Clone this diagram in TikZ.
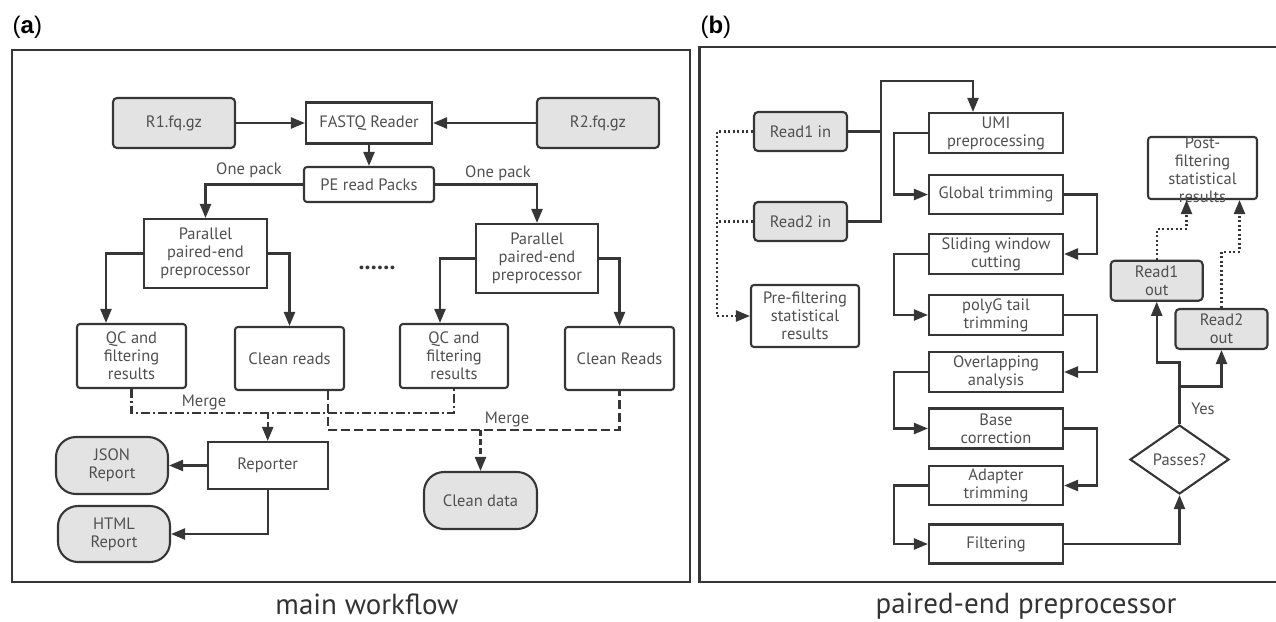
\documentclass[tikz,border=0pt]{standalone}
\usepackage{fontspec}
\setmainfont{PT Sans}
\newfontfamily\panelfont{Liberation Sans}
\usepackage{tikz}
\usetikzlibrary{arrows.meta,shapes.geometric}
\definecolor{linec}{HTML}{363636}
\definecolor{txtc}{HTML}{505050}
\definecolor{boxfill}{HTML}{E3E3E3}

\begin{document}
\begin{tikzpicture}[x=1pt,y=-1pt,>={Triangle[length=14pt,width=11pt]},
  sz/.style 2 args={minimum width=#1pt,minimum height=#2pt},
  box/.style={draw=linec,line width=2.1pt,fill=white,align=center,text=txtc,font=\fontsize{16.5}{18}\selectfont,inner sep=1pt},
  inbox/.style={box,fill=boxfill,rounded corners=4pt},
  rbox/.style={box,rounded corners=3pt},
  term/.style={box,fill=boxfill,rounded corners=20pt},
  lbl/.style={text=txtc,font=\fontsize{16.5}{18}\selectfont,inner sep=0pt,align=center},
  flow/.style={draw=linec,line width=2.3pt,->},
  link/.style={draw=linec,line width=2.3pt},
  dotline/.style={draw=linec,line width=2.3pt,dash pattern=on 2pt off 2.5pt},
  frame/.style={draw=linec,line width=2.4pt},
  caption/.style={text=black!80,font=\fontsize{29}{32}\selectfont,anchor=base}]
  \useasboundingbox (0,0) rectangle (1276,621);
  % Panel frames and titles
  \draw[frame] (12,50) rectangle (690,582);
  \draw[frame] (1290,47) -- (699.5,47) -- (699.5,582) -- (1290,582);
  \node[anchor=west,font=\panelfont\fontsize{24}{26}\selectfont] (tita) at (9,27) {(\textbf{a})};
  \node[anchor=west,font=\panelfont\fontsize{24}{26}\selectfont] (titb) at (697,27) {(\textbf{b})};
  \node[caption] (capa) at (367,614) {main workflow};
  \node[caption] (capb) at (1026,613) {paired-end preprocessor};

  % (a) main workflow
  \node[inbox,sz={122}{50}] (r1) at (174,123) {R1.fq.gz};
  \node[box,sz={126}{41}] (fq) at (369,123) {FASTQ Reader};
  \node[inbox,sz={122}{50}] (r2) at (598,123) {R2.fq.gz};
  \node[rbox,sz={130}{35}] (pe) at (369,184.5) {PE read Packs};
  \node[box,sz={123}{69}] (pp1) at (205.5,253.5) {Parallel\\paired-end\\preprocessor};
  \node[box,sz={122}{69}] (pp2) at (537,258.5) {Parallel\\paired-end\\preprocessor};
  \node[lbl,font=\fontsize{24}{24}\selectfont\bfseries,text=linec] (dots) at (377,268) {......};
  \node[rbox,sz={109}{64}] (qc1) at (131.5,356) {QC and\\filtering\\results};
  \node[rbox,sz={109}{63}] (cr1) at (289.5,358.5) {Clean reads};
  \node[rbox,sz={108}{64}] (qc2) at (454,356) {QC and\\filtering\\results};
  \node[rbox,sz={109}{63}] (cr2) at (619.5,358.5) {Clean Reads};
  \node[box,sz={120}{47}] (rep) at (267.7,465.5) {Reporter};
  \node[term,sz={112}{57}] (json) at (112,465.5) {JSON\\Report};
  \node[term,sz={112}{56}] (html) at (114,534) {HTML\\Report};
  \node[term,sz={113}{57}] (cd) at (480.5,500.5) {Clean data};
  \coordinate (m1) at (267.7,413.3);
  \coordinate (m2) at (480.5,430);

  \draw[flow] (r1) -- (fq);
  \draw[flow] (r2) -- (fq);
  \draw[flow] (fq) -- (pe);
  \draw[flow] (pe.west) -| (pp1.north);
  \draw[flow] (pe.east) -| (pp2.north);
  \node[lbl] (pk1) at (249,170) {One pack};
  \node[lbl] (pk2) at (498,173) {One pack};
  \draw[flow] (pp1.west) -| ([xshift=-25.5pt]qc1.north);
  \draw[flow] (pp1.east) -| (cr1.north);
  \draw[flow] (pp2.west) -| ([xshift=-14pt]qc2.north);
  \draw[flow] (pp2.east) -| (cr2.north);
  % Merging
  \draw[link,dash pattern=on 9pt off 3pt on 2pt off 3pt] (qc1.south) |- (m1) -| (qc2.south);
  \draw[flow,dash pattern=on 6pt off 3pt] (m1) -- (rep.north);
  \draw[link,dash pattern=on 9pt off 4pt] ([xshift=38.8pt]cr1.south) |- (m2) -| (cr2.south);
  \draw[flow,dash pattern=on 6pt off 3pt] (m2) -- (cd.north);
  \node[lbl] (mg1) at (204,402) {Merge};
  \node[lbl] (mg2) at (507,419) {Merge};
  \draw[flow] (rep) -- (json);
  \draw[flow] (rep.south) |- (html.east);

  % (b) paired-end preprocessor
  \node[inbox,sz={93}{39}] (in1) at (800.5,131.5) {Read1 in};
  \node[inbox,sz={93}{39}] (in2) at (800.5,221.5) {Read2 in};
  \node[rbox,sz={108}{62}] (pre) at (805,316) {Pre-filtering\\statistical\\results};
  \node[box,sz={134}{40}] (umi) at (996,133) {UMI\\preprocessing};
  \node[box,sz={134}{39}] (glob) at (996,194.5) {Global trimming};
  \node[box,sz={134}{40}] (slide) at (996,254) {Sliding window\\cutting};
  \node[box,sz={134}{40}] (polyg) at (996,315) {polyG tail\\trimming};
  \node[box,sz={134}{40}] (ovl) at (996,372) {Overlapping\\analysis};
  \node[box,sz={134}{40}] (base) at (996,428.5) {Base\\correction};
  \node[box,sz={134}{39}] (adapt) at (996,485.5) {Adapter\\trimming};
  \node[box,sz={134}{39}] (filt) at (996,544) {Filtering};
  \node[box,shape=diamond,inner sep=0pt,sz={99}{69}] (pass) at (1179.5,459.5) {Passes?};
  \node[inbox,sz={92}{40}] (out1) at (1156.7,280.7) {Read1\\out};
  \node[inbox,sz={92}{40}] (out2) at (1221.5,329) {Read2\\out};
  \node[rbox,sz={109}{62}] (post) at (1202.5,168) {};
  \node[lbl] (postt) at (1202.5,169.5) {Post-\\filtering\\statistical\\results};
  \coordinate (j1) at (880.7,81);
  \coordinate (pd) at (717,316);
  \coordinate (yes) at (1179.5,386.5);

  \draw[link] (in2.east) -| (j1);
  \draw[flow] (in1.east) -| (j1) -| ([xshift=-23pt]umi.north);
  \draw[dotline] (in2.west) -- (in2.west -| pd);
  \draw[dotline,->] (in1.west) -| (pd) -- (pre.west);
  % Processing chain
  \draw[flow] (umi.west) -- ++(-34,0) |- (glob.west);
  \draw[flow] (glob.east) -- ++(33,0) |- (slide.east);
  \draw[flow] (slide.west) -- ++(-34,0) |- (polyg.west);
  \draw[flow] (polyg.east) -- ++(33,0) |- (ovl.east);
  \draw[flow] (ovl.west) -- ++(-34,0) |- (base.west);
  \draw[flow] (base.east) -- ++(33,0) |- (adapt.east);
  \draw[flow] (adapt.west) -- ++(-34,0) |- (filt.west);
  \draw[flow] (filt.east) -| (pass.south);
  \draw[link] (pass.north) -- (yes);
  \node[lbl] (yesl) at (1203,409) {Yes};
  \draw[flow] (yes) -- ++(0,-24) -| (out1.south);
  \draw[flow] (yes) -| (out2.south);
  \draw[dotline,->] (out1.north) -- ++(0,-30.7) -| ([xshift=-16pt]post.south);
  \draw[dotline,->] (out2.north) -- ++(0,-56) -| ([xshift=37pt]post.south);
\end{tikzpicture}
\end{document}
